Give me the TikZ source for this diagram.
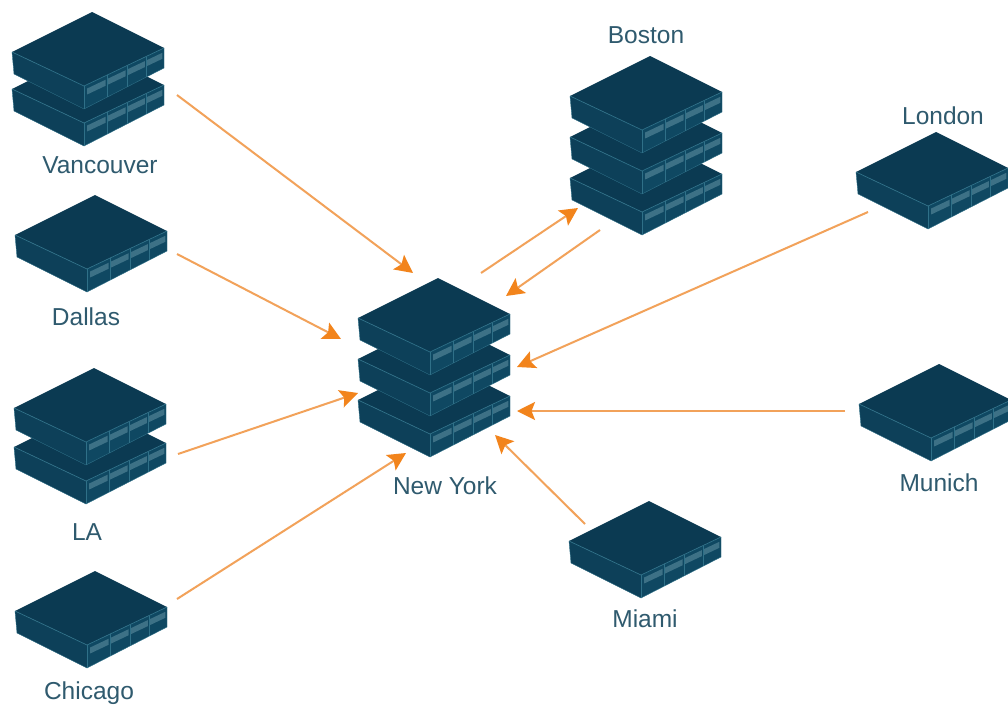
\documentclass[tikz,border=0pt]{standalone}
\usepackage{fontspec}
\setmainfont{Liberation Sans}
\usetikzlibrary{arrows.meta,calc}
\definecolor{topc}{HTML}{0B3A52}
\definecolor{leftc}{HTML}{0D4059}
\definecolor{rightc}{HTML}{0F4862}
\definecolor{edgec}{HTML}{2F7088}
\definecolor{stripc}{HTML}{3D7186}
\definecolor{labelc}{HTML}{2F5A6E}
\definecolor{arrowc}{HTML}{F2841C}
\definecolor{linec}{HTML}{F2A25A}
\tikzset{
  x=1pt,y=-1pt,
  unitpic/.pic={
    \fill[leftc] (-80,40) -- (-8,74) -- (-8,97) -- (-78,62) -- cycle;
    \fill[rightc] (-8,74) -- (72,36) -- (72,56) -- (-8,97) -- cycle;
    \fill[topc] (0,0) -- (72,36) -- (-8,74) -- (-80,40) -- cycle;
    \draw[edgec,line width=.7pt] (-80,40) -- (-8,74) -- (72,36);
    \draw[edgec,line width=.4pt] (-80,40) -- (-78,62) (72,36) -- (72,56);
    \draw[edgec,line width=.4pt] (-8,97) -- (72,56);
    \draw[edgec,line width=.4pt] (-78,62) -- (-8,97);
    \foreach \a/\b in {0.04/0.27,0.30/0.52,0.55/0.76,0.79/0.98}{
      \fill[stripc] ($(-8,78)!\a!(72,40)$) -- ($(-8,78)!\b!(72,40)$) -- ($(-8,84)!\b!(72,46)$) -- ($(-8,84)!\a!(72,46)$) -- cycle;
    }
    \foreach \a in {0.285,0.535,0.775}{
      \draw[edgec,line width=.4pt] ($(-8,74)!\a!(72,36)$) -- ($(-8,97)!\a!(72,56)$);
    }
    \draw[edgec,line width=.5pt] (-8,74) -- (-8,97);
  },
  citylabel/.style={text=labelc,font=\fontsize{24.5}{26}\selectfont,inner sep=0pt,anchor=center},
  flow/.style={draw=linec,line width=2pt,-{Stealth[length=18pt,width=18pt,inset=3.5pt,color=arrowc]}},
}
\begin{document}
\begin{tikzpicture}
\useasboundingbox (0,0) rectangle (1008,704);
\fill[white] (0,0) rectangle (1008,704);
% units, lower ones first
\pic at (92,49) {unitpic};
\pic at (92,12) {unitpic};
\pic at (95,195) {unitpic};
\pic at (94,407) {unitpic};
\pic at (94,368) {unitpic};
\pic at (95,571) {unitpic};
\pic at (650,138) {unitpic};
\pic at (650,97) {unitpic};
\pic at (650,56) {unitpic};
\pic at (936,132) {unitpic};
\pic at (939,364) {unitpic};
\pic at (649,501) {unitpic};
\pic at (438,360) {unitpic};
\pic at (438,319) {unitpic};
\pic at (438,278) {unitpic};
% labels
\node[citylabel] (vancouver) at (100,165) {Vancouver};
\node[citylabel] (dallas) at (86,317) {Dallas};
\node[citylabel] (la) at (87,532) {LA};
\node[citylabel] (chicago) at (89,693) {Chicago};
\node[citylabel] (boston) at (646,35) {Boston};
\node[citylabel] (london) at (943,116) {London};
\node[citylabel] (munich) at (939,483) {Munich};
\node[citylabel] (miami) at (645,619) {Miami};
\node[citylabel] (newyork) at (445,486) {New York};
% connector ends
\coordinate (v1) at (177,95);   \coordinate (v2) at (413,273);
\coordinate (d1) at (177,254);  \coordinate (d2) at (341,339);
\coordinate (l1) at (178,454);  \coordinate (l2) at (358,393);
\coordinate (c1) at (177,599);  \coordinate (c2) at (406,453);
\coordinate (b1) at (481,273);  \coordinate (b2) at (578,208);
\coordinate (b3) at (600,230);  \coordinate (b4) at (506,296);
\coordinate (n1) at (868,212);  \coordinate (n2) at (517,367);
\coordinate (m1) at (845,411);  \coordinate (m2) at (517,411);
\coordinate (a1) at (585,524);  \coordinate (a2) at (495,435);
\foreach \s/\e in {v1/v2,d1/d2,l1/l2,c1/c2,b1/b2,b3/b4,n1/n2,m1/m2,a1/a2}
  \draw[flow] (\s) -- (\e);
\end{tikzpicture}
\end{document}
